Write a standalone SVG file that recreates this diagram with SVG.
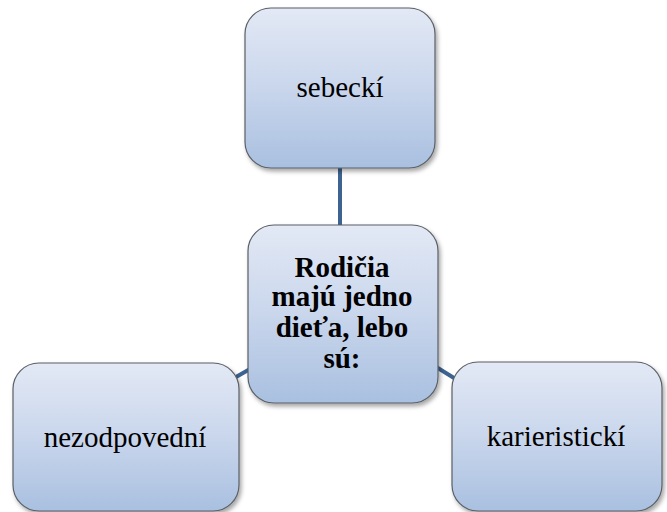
<svg xmlns="http://www.w3.org/2000/svg" width="667" height="512" viewBox="0 0 667 512">
<style>
.box{fill:url(#g);stroke:#5a5f66;stroke-width:1.2;filter:url(#sh)}
.t{font-family:"Liberation Serif","Times New Roman",serif;font-size:29px;fill:#000;text-anchor:middle}
.b{font-weight:bold}
.c{stroke:#3d6391;stroke-width:4;fill:none}
</style>
<defs>
<linearGradient id="g" x1="0" y1="0" x2="0" y2="1">
<stop offset="0" stop-color="#e3e9f5"/>
<stop offset="0.5" stop-color="#c9d6ec"/>
<stop offset="1" stop-color="#a9c0e0"/>
</linearGradient>
<filter id="sh" x="-10%" y="-10%" width="125%" height="125%">
<feDropShadow dx="2" dy="3" stdDeviation="2" flood-color="#000" flood-opacity="0.35"/>
</filter>
</defs>
<rect width="667" height="512" fill="#fff"/>
<g id="connectors">
<line class="c" x1="340" y1="168" x2="340" y2="226"/>
<line class="c" x1="236" y1="377" x2="250" y2="369"/>
<line class="c" x1="433" y1="365" x2="454" y2="378"/>
</g>
<g id="top">
<rect class="box" x="245" y="8" width="190" height="160" rx="26"/>
<text class="t" x="340" y="97">sebeckí</text>
</g>
<g id="left">
<rect class="box" x="13" y="363" width="226" height="148" rx="26"/>
<text class="t" x="125" y="447">nezodpovední</text>
</g>
<g id="right">
<rect class="box" x="452" y="362" width="210" height="149" rx="26"/>
<text class="t" x="556" y="446">karieristickí</text>
</g>
<g id="center">
<rect class="box" x="248" y="225" width="190" height="178" rx="26"/>
<text class="t b" x="342" y="277">Rodičia</text>
<text class="t b" x="342" y="306">majú jedno</text>
<text class="t b" x="342" y="337">dieťa, lebo</text>
<text class="t b" x="342" y="368">sú:</text>
</g>
</svg>
